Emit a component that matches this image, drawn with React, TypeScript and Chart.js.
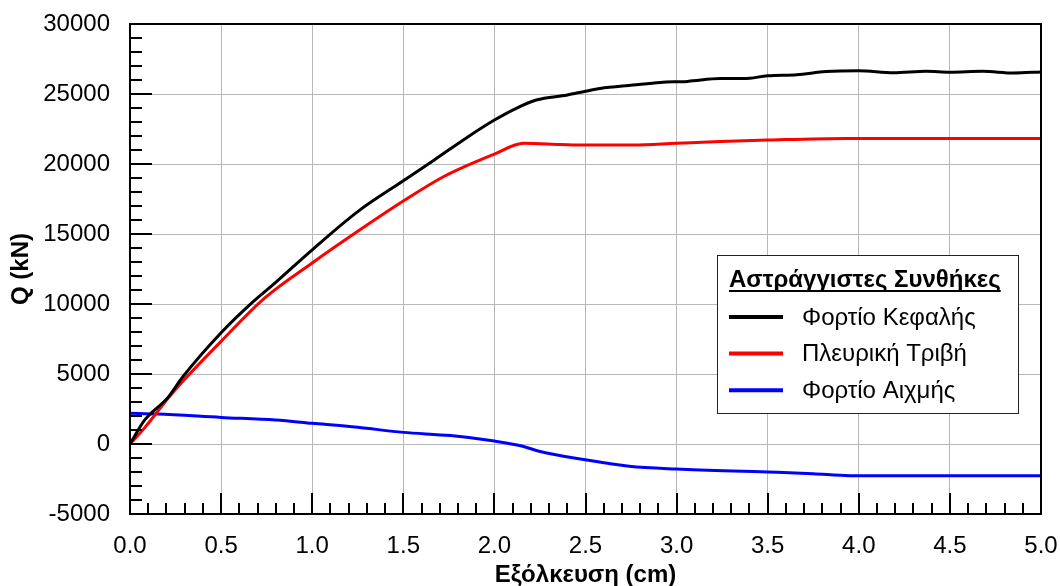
import React, { useEffect, useRef } from "react";
import { Chart, registerables } from "chart.js";

Chart.register(...registerables);

// ---- data ----
const headX = [0, 0.08, 0.21, 0.29, 0.5, 0.67, 0.8, 1.0, 1.25, 1.5, 1.67, 1.85, 2.0, 2.12, 2.23, 2.4, 2.5, 2.58, 2.76, 2.91, 3.06, 3.24, 3.37, 3.5, 3.66, 3.82, 4.0, 4.19, 4.37, 4.5, 4.68, 4.85, 5.0];
const headQ = [0, 1700, 3350, 4800, 7950, 10100, 11550, 13870, 16600, 18800, 20290, 21900, 23140, 23980, 24570, 24930, 25200, 25400, 25640, 25830, 25900, 26100, 26100, 26300, 26380, 26600, 26660, 26520, 26620, 26560, 26620, 26500, 26580];

const skinX = [0, 0.08, 0.21, 0.29, 0.5, 0.74, 1.0, 1.25, 1.5, 1.72, 2.0, 2.16, 2.36, 2.5, 2.76, 3.0, 3.24, 3.5, 3.93, 4.5, 5.0];
const skinQ = [0, 1150, 3290, 4480, 7330, 10430, 12930, 15190, 17350, 19090, 20710, 21480, 21400, 21350, 21360, 21480, 21600, 21710, 21830, 21830, 21830];

const tipX = [0, 0.15, 0.5, 0.8, 1.0, 1.25, 1.5, 1.76, 2.0, 2.15, 2.24, 2.5, 2.74, 3.0, 3.5, 3.75, 3.95, 4.5, 5.0];
const tipQ = [2190, 2140, 1900, 1710, 1480, 1190, 830, 600, 210, -140, -500, -1130, -1590, -1790, -2000, -2120, -2260, -2260, -2260];

const seriesLabels = ["Φορτίο Κεφαλής", "Πλευρική Τριβή", "Φορτίο Αιχμής"];
const seriesColors = ["#000000", "#ff0000", "#0000ff"];
const legendTitle = "Αστράγγιστες Συνθήκες";
const xTitle = "Εξόλκευση (cm)";
const yTitle = "Q (kN)";

const xMin = 0, xMax = 5, xStep = 0.5, xMinor = 0.1;
const yMin = -5000, yMax = 30000, yStep = 5000, yMinor = 1000;

const FONT = "'Liberation Sans', Arial, Helvetica, sans-serif";

const toPoints = (xs: number[], ys: number[]) => xs.map((x, i) => ({ x, y: ys[i] }));

const framePlugin = {
  id: "frameTicksLegend",
  afterDraw(chart: any) {
    const { ctx, chartArea: a, scales } = chart;
    const sx = scales.x;
    const sy = scales.y;
    ctx.save();
    // inner ticks
    ctx.strokeStyle = "#000";
    ctx.lineWidth = 2;
    ctx.beginPath();
    const nx = Math.round((xMax - xMin) / xMinor);
    const rx = Math.round(xStep / xMinor);
    for (let i = 0; i <= nx; i++) {
      const px = Math.round(sx.getPixelForValue(xMin + i * xMinor));
      const len = i % rx === 0 ? 21 : 11;
      ctx.moveTo(px, a.bottom);
      ctx.lineTo(px, a.bottom - len);
    }
    const ny = Math.round((yMax - yMin) / yMinor);
    const ry = Math.round(yStep / yMinor);
    for (let i = 0; i <= ny; i++) {
      const py = Math.round(sy.getPixelForValue(yMin + i * yMinor));
      const len = i % ry === 0 ? 22 : 12;
      ctx.moveTo(a.left, py);
      ctx.lineTo(a.left + len, py);
    }
    ctx.stroke();
    // frame
    ctx.strokeRect(a.left, a.top, a.right - a.left, a.bottom - a.top);

    // legend box
    const bx = a.right - 324;
    const by = a.top + 231;
    const bw = 301;
    const bh = 158;
    ctx.fillStyle = "#fff";
    ctx.fillRect(bx, by, bw, bh);
    ctx.strokeStyle = "#222";
    ctx.lineWidth = 1;
    ctx.strokeRect(bx + 0.5, by + 0.5, bw, bh);

    ctx.fillStyle = "#000";
    ctx.font = `bold 24px ${FONT}`;
    ctx.textBaseline = "alphabetic";
    ctx.textAlign = "left";
    const tx = bx + 12;
    const tBase = by + 32;
    ctx.fillText(legendTitle, tx, tBase);
    const tw = ctx.measureText(legendTitle).width;
    ctx.fillRect(tx, tBase + 3, tw, 2);

    ctx.font = `24px ${FONT}`;
    ctx.textBaseline = "middle";
    chart.data.datasets.forEach((ds: any, i: number) => {
      const cy = by + 62 + i * 36.6;
      ctx.strokeStyle = ds.borderColor;
      ctx.lineWidth = 4;
      ctx.beginPath();
      ctx.moveTo(bx + 12, cy);
      ctx.lineTo(bx + 66, cy);
      ctx.stroke();
      ctx.fillStyle = "#000";
      ctx.fillText(ds.label, bx + 85, cy + 1);
    });
    ctx.restore();
  },
};

export default function App() {
  const ref = useRef<HTMLCanvasElement>(null);
  useEffect(() => {
    document.body.style.margin = "0";
    Chart.defaults.font.family = FONT;
    const series = [toPoints(headX, headQ), toPoints(skinX, skinQ), toPoints(tipX, tipQ)];
    const chart = new Chart(ref.current as HTMLCanvasElement, {
      type: "line",
      data: {
        datasets: series.map((data, i) => ({
          label: seriesLabels[i],
          data,
          borderColor: seriesColors[i],
          backgroundColor: seriesColors[i],
          borderWidth: 3,
          pointRadius: 0,
          fill: false,
          cubicInterpolationMode: "monotone" as const,
        })),
      },
      options: {
        responsive: false,
        animation: false,
        devicePixelRatio: 1,
        layout: { autoPadding: false, padding: { top: 24, right: 19, left: 0, bottom: 0 } },
        plugins: {
          legend: { display: false },
          tooltip: { enabled: false },
        },
        scales: {
          x: {
            type: "linear",
            min: xMin,
            max: xMax,
            afterFit: (s: any) => {
              s.height = 72;
              s.paddingLeft = 0;
              s.paddingRight = 0;
            },
            ticks: {
              stepSize: xStep,
              autoSkip: false,
              maxRotation: 0,
              padding: 18,
              color: "#000",
              font: { size: 24 },
              callback: (v: any) => Number(v).toFixed(1),
            },
            grid: { color: "#b8b8b8", lineWidth: 1, drawTicks: false },
            border: { display: false },
            title: {
              display: true,
              text: xTitle,
              color: "#000",
              font: { size: 24, weight: "bold", lineHeight: 0.87 },
              padding: 0,
            },
          },
          y: {
            type: "linear",
            min: yMin,
            max: yMax,
            afterFit: (s: any) => {
              s.width = 130;
              s.paddingTop = 0;
              s.paddingBottom = 0;
            },
            ticks: {
              stepSize: yStep,
              padding: 20,
              color: "#000",
              font: { size: 24 },
              callback: (v: any) => String(v),
            },
            grid: { color: "#b8b8b8", lineWidth: 1, drawTicks: false },
            border: { display: false },
            title: {
              display: true,
              text: yTitle,
              color: "#000",
              font: { size: 24, weight: "bold", lineHeight: 1 },
              padding: { top: 9, bottom: 0 },
            },
          },
        },
      },
      plugins: [framePlugin],
    });
    return () => chart.destroy();
  }, []);
  return (
    <div style={{ position: "absolute", left: 0, top: 0, width: 1060, height: 586 }}>
      <canvas ref={ref} width={1060} height={586} style={{ display: "block" }} />
    </div>
  );
}
